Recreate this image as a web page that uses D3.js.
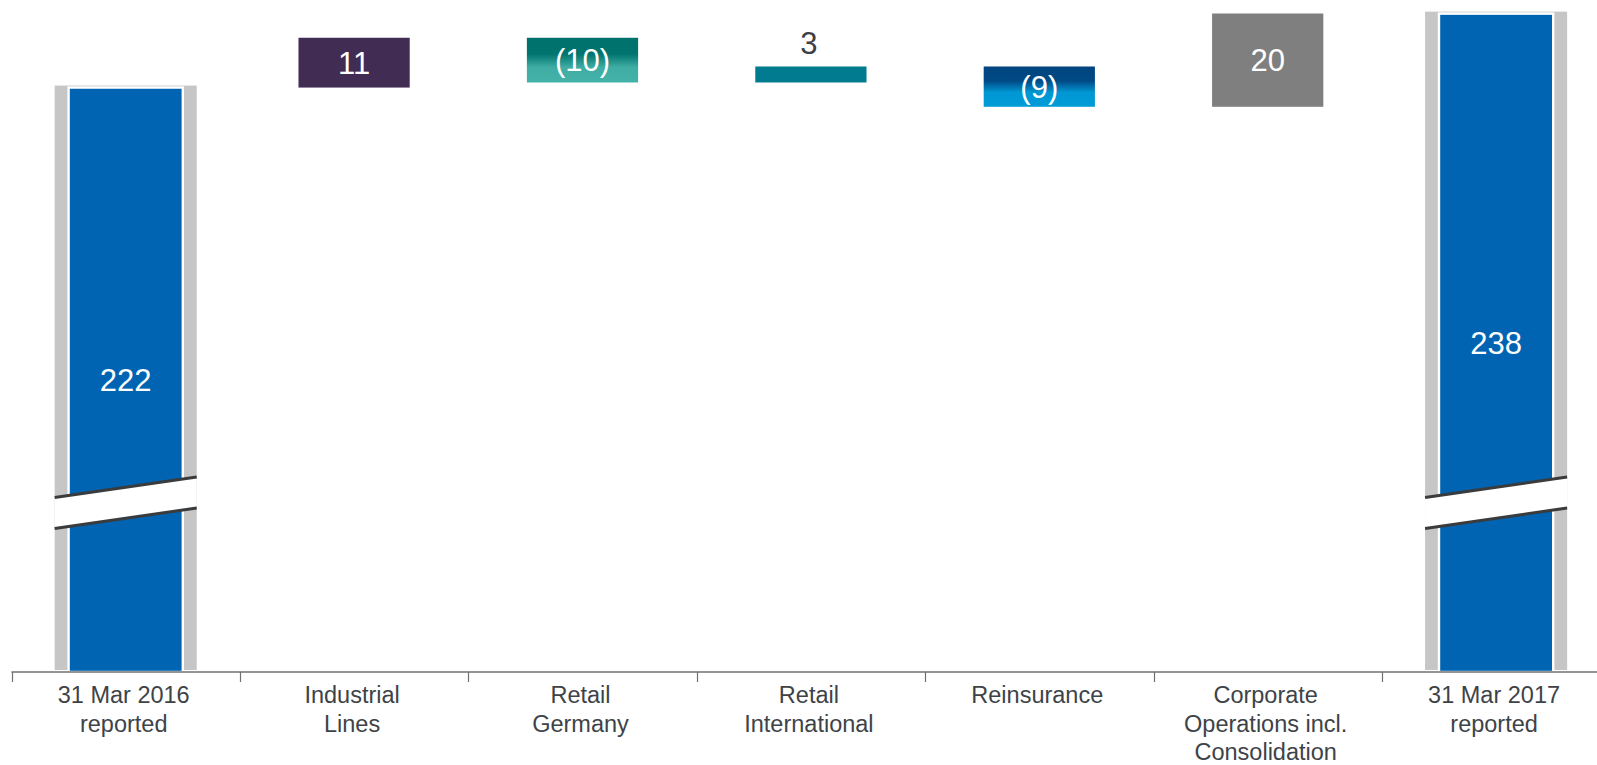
<!DOCTYPE html>
<html>
<head>
<meta charset="utf-8">
<script src="https://cdn.jsdelivr.net/npm/d3@7/dist/d3.min.js"></script>
<style>
  html, body { margin: 0; padding: 0; background: #ffffff; }
  svg { display: block; }
  text { font-family: "Liberation Sans", Arial, sans-serif; }
</style>
</head>
<body>
<svg id="chart" width="1597" height="765"></svg>
<script>
// ---- Data ----
const categories = [
  "31 Mar 2016 reported",
  "Industrial Lines",
  "Retail Germany",
  "Retail International",
  "Reinsurance",
  "Corporate Operations incl. Consolidation",
  "31 Mar 2017 reported"
];
const categoryLines = [
  ["31 Mar 2016", "reported"],
  ["Industrial", "Lines"],
  ["Retail", "Germany"],
  ["Retail", "International"],
  ["Reinsurance"],
  ["Corporate", "Operations incl.", "Consolidation"],
  ["31 Mar 2017", "reported"]
];
const startTotal = 222.0;
const endTotal = 238.0;
// estimated unrounded changes (labels show rounded values)
const deltas = [10.78, -9.68, 3.46, -8.72, 20.19];
const deltaColors = ["#412c54", "url(#gradGermany)", "#007b8f", "url(#gradReins)", "#7f7f7f"];

// ---- Layout ----
const W = 1597, H = 765;
const axisY = 672;
const svg = d3.select("#chart");

const x = d3.scaleBand().domain(categories).range([11.5, 1610.3]).padding(0);
const y = d3.scaleLinear().domain([95.5, 240]).range([axisY, 4.4]);

// gradients
const defs = svg.append("defs");
function grad(id, stops) {
  const g = defs.append("linearGradient").attr("id", id)
    .attr("x1", 0).attr("y1", 0).attr("x2", 0).attr("y2", 1);
  stops.forEach(s => g.append("stop").attr("offset", s[0]).attr("stop-color", s[1]));
}
grad("gradGermany", [[0, "#00716c"], [0.36, "#00746f"], [0.66, "#3fada3"], [1, "#43b2a8"]]);
grad("gradReins", [[0, "#00447e"], [0.36, "#004a86"], [0.64, "#0097d3"], [1, "#009cd8"]]);

// build waterfall steps
let running = startTotal;
const steps = deltas.map((d, i) => {
  const from = running;
  running += d;
  return { cat: categories[i + 1], from, to: running, delta: d, color: deltaColors[i] };
});

const fmt = v => {
  const r = Math.round(Math.abs(v));
  return v < 0 ? "(" + r + ")" : String(r);
};

// ---- Total bars ----
const totals = [
  { cat: categories[0], value: startTotal },
  { cat: categories[6], value: endTotal }
];
const bw = x.bandwidth();
const grayW = bw * 0.622, blueW = bw * 0.5;

const tg = svg.append("g");
totals.forEach(t => {
  const cx = x(t.cat) + bw / 2;
  tg.append("rect")
    .attr("x", cx - grayW / 2).attr("y", y(t.value) - 2)
    .attr("width", grayW).attr("height", axisY - 2 - (y(t.value) - 2))
    .attr("fill", "#c6c6c6");
  tg.append("rect")
    .attr("x", cx - blueW / 2).attr("y", y(t.value))
    .attr("width", blueW).attr("height", axisY - y(t.value))
    .attr("fill", "#0064b2").attr("stroke", "#ffffff").attr("stroke-width", 2.4);
  // axis break
  const bx0 = cx - grayW / 2, bx1 = cx + grayW / 2;
  const breakCY = 503, rise = 20.5, gap = 31;
  const ul = breakCY - 5.5, ur = ul - rise;
  tg.append("polygon")
    .attr("points", [[bx0, ul], [bx1, ur], [bx1, ur + gap], [bx0, ul + gap]].map(p => p.join(",")).join(" "))
    .attr("fill", "#ffffff");
  [0, gap].forEach(off => {
    tg.append("line")
      .attr("x1", bx0).attr("y1", ul + off).attr("x2", bx1).attr("y2", ur + off)
      .attr("stroke", "#3a3b3d").attr("stroke-width", 3);
  });
  tg.append("text")
    .attr("x", cx).attr("y", (y(t.value) + axisY) / 2)
    .attr("dy", "0.36em").attr("text-anchor", "middle")
    .attr("font-size", 31).attr("fill", "#ffffff")
    .text(fmt(t.value));
});

// ---- Change bars ----
const fw = bw * 0.487;
const fg = svg.append("g");
steps.forEach(s => {
  const cx = x(s.cat) + bw / 2;
  const top = y(Math.max(s.from, s.to)), bot = y(Math.min(s.from, s.to));
  fg.append("rect")
    .attr("x", cx - fw / 2).attr("y", top)
    .attr("width", fw).attr("height", bot - top)
    .attr("fill", s.color);
  const h = bot - top;
  if (h < 30) {
    fg.append("text")
      .attr("x", cx - 2).attr("y", top - 12)
      .attr("text-anchor", "middle")
      .attr("font-size", 31).attr("fill", "#3c4045")
      .text(fmt(s.delta));
  } else {
    fg.append("text")
      .attr("x", cx).attr("y", (top + bot) / 2)
      .attr("dy", "0.36em").attr("text-anchor", "middle")
      .attr("font-size", 31).attr("fill", "#ffffff")
      .text(fmt(s.delta));
  }
});

// ---- X axis ----
const ax = svg.append("g");
ax.append("line")
  .attr("x1", x(categories[0])).attr("x2", W)
  .attr("y1", axisY).attr("y2", axisY)
  .attr("stroke", "#6f7072").attr("stroke-width", 1.6);
categories.forEach(c => {
  const tx = Math.round(x(c)) + 0.5;
  ax.append("line")
    .attr("x1", tx).attr("x2", tx)
    .attr("y1", axisY).attr("y2", axisY + 10)
    .attr("stroke", "#6f7072").attr("stroke-width", 1.2);
});
categories.forEach((c, i) => {
  const cx = x(c) + bw / 2 - 2;
  const t = ax.append("text")
    .attr("text-anchor", "middle")
    .attr("font-size", 23.5).attr("fill", "#3e4348");
  categoryLines[i].forEach((ln, j) => {
    t.append("tspan").attr("x", cx).attr("y", 703 + j * 28.5).text(ln);
  });
});
</script>
</body>
</html>
